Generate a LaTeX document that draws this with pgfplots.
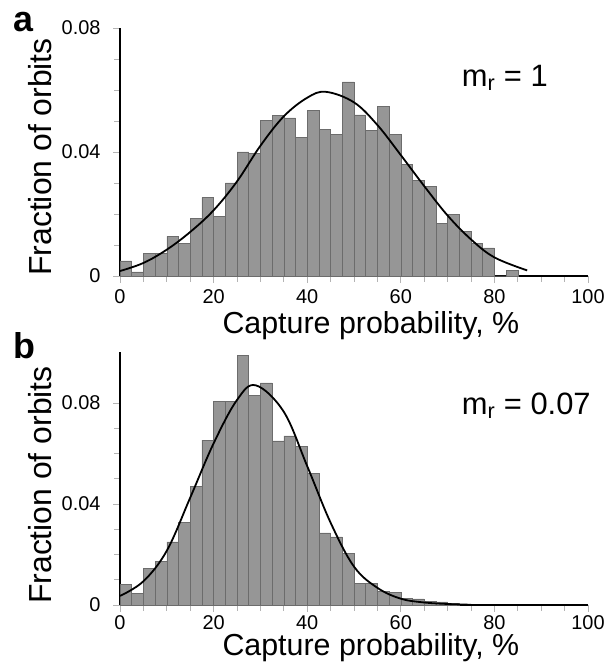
\documentclass[border=0pt]{standalone}
\usepackage{fontspec}
\setmainfont{Liberation Sans}
\usepackage{pgfplots}
\pgfplotsset{compat=1.18}
\definecolor{barfill}{RGB}{150,150,150}
\definecolor{baredge}{RGB}{108,108,108}
\definecolor{tickg}{RGB}{180,180,180}
\pgfplotsset{
  panel/.style={
    scale only axis, width=468bp, anchor=south west,
    xmin=0, xmax=100, ymin=0,
    axis lines*=left,
    axis line style={black, line width=1.2bp},
    xtick={0,20,...,100},
    minor x tick num=3,
    ytick={0,0.04,0.08}, yticklabels={0,0.04,0.08},
    minor y tick num=3,
    scaled y ticks=false,
    tick align=outside,
    tick style={tickg, line width=0.9bp},
    major tick length=7bp, minor tick length=6bp,
    /pgf/number format/assume math mode=true,
    xticklabel style={font=\fontsize{20}{24}\selectfont, text=black},
    yticklabel style={font=\fontsize{20}{24}\selectfont, text=black, xshift=-9bp},
    xlabel={Capture probability, \%},
    ylabel={Fraction of orbits},
    xlabel style={font=\fontsize{30.5}{36}\selectfont, anchor=base},
    ylabel style={font=\fontsize{32}{36}\selectfont, anchor=base},
    clip=false,
  },
  hist/.style={ybar interval, fill=barfill, draw=baredge, line width=0.5bp},
  fit/.style={black, line width=1.8bp, smooth, tension=0.6, no markers},
}
\begin{document}
\begin{tikzpicture}[x=1bp,y=1bp]
\path[use as bounding box] (0,0) rectangle (614,671);
% panel a
\begin{axis}[panel, at={(120bp,395bp)}, height=248bp, ymax=0.08,
  xticklabel style={yshift=-3bp},
  xlabel style={at={(axis description cs:0.536,-0.230)}},
  ylabel style={at={(axis description cs:-0.146,0.48)}}]
\addplot[hist] coordinates {
(0,0.0049) (2.5,0.0013) (5,0.0072) (7.5,0.0072) (10,0.0128) (12.5,0.0104)
(15,0.0185) (17.5,0.0253) (20,0.0193) (22.5,0.0300) (25,0.0400) (27.5,0.0395)
(30,0.0502) (32.5,0.0518) (35,0.0510) (37.5,0.0446) (40,0.0535) (42.5,0.0472)
(45,0.0457) (47.5,0.0626) (50,0.0520) (52.5,0.0470) (55,0.0547) (57.5,0.0457)
(60,0.0360) (62.5,0.0309) (65,0.0290) (67.5,0.0169) (70,0.0198) (72.5,0.0144)
(75,0.0104) (77.5,0.0091) (80,0) (82.5,0.0018) (85,0)
};
\addplot[fit] coordinates {
(0,0.0016) (5,0.0042) (10,0.0085) (15,0.0142) (20,0.0212) (25,0.0305)
(30,0.0420) (35,0.0515) (40,0.0575) (44,0.0594) (50,0.0560) (55,0.0487)
(60,0.0390) (65,0.0290) (70,0.0195) (75,0.0118) (80,0.0060) (87,0.0018)
};
\end{axis}
% panel b
\begin{axis}[panel, at={(120bp,66bp)}, height=252.5bp, ymax=0.1,
  xlabel style={at={(axis description cs:0.536,-0.201)}},
  ylabel style={at={(axis description cs:-0.146,0.475)}}]
\addplot[hist] coordinates {
(0,0.0083) (2.5,0.0046) (5,0.0145) (7.5,0.0172) (10,0.0250) (12.5,0.0326)
(15,0.0470) (17.5,0.0653) (20,0.0805) (22.5,0.0805) (25,0.0990) (27.5,0.0830)
(30,0.0880) (32.5,0.0650) (35,0.0670) (37.5,0.0627) (40,0.0520) (42.5,0.0286)
(45,0.0270) (47.5,0.0205) (50,0.0086) (52.5,0.0086) (55,0.0053) (57.5,0.0050)
(60,0.0026) (62.5,0.0024) (65,0.0015) (67.5,0.0012) (70,0.0006) (72.5,0)
};
\addplot[fit] coordinates {
(0,0.0036) (5,0.0094) (10,0.0215) (15,0.0425) (20,0.0640) (25,0.0812)
(29,0.0870) (35,0.0765) (40,0.0550) (45,0.0326) (50,0.0152) (55,0.0068)
(60,0.0025) (65,0.0010) (70,0.0004) (75,0.0001)
};
\end{axis}
\node[anchor=base west, inner sep=0, font=\bfseries\fontsize{36}{40}\selectfont] at (13,639.3) {a};
\node[anchor=base west, inner sep=0, font=\bfseries\fontsize{36}{40}\selectfont] at (13,312.7) {b};
\node[anchor=base west, inner sep=0, font=\fontsize{31}{36}\selectfont] at (461.7,584.3) {m\textsubscript{r} = 1};
\node[anchor=base west, inner sep=0, font=\fontsize{31}{36}\selectfont] at (461.7,256) {m\textsubscript{r} = 0.07};
\end{tikzpicture}
\end{document}
